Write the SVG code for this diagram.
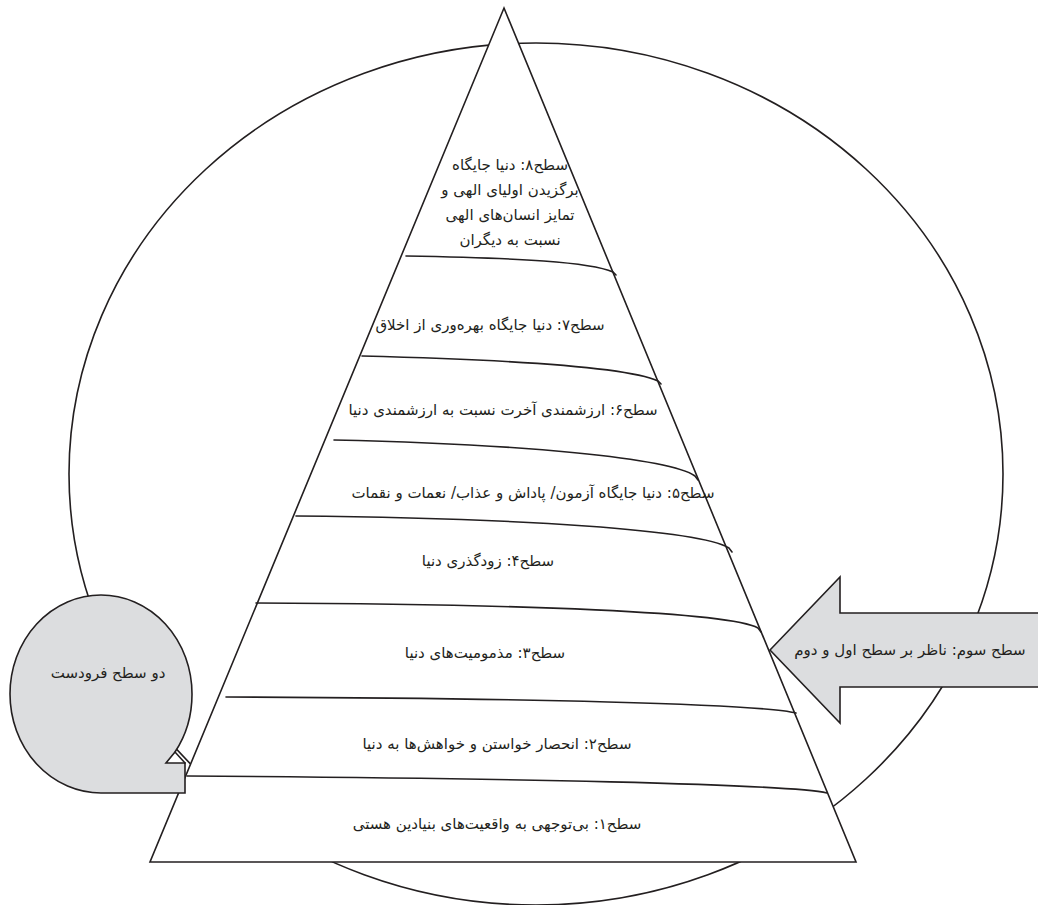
<svg xmlns="http://www.w3.org/2000/svg" width="1038" height="905" viewBox="0 0 1038 905">
<style>
.ln{fill:none;stroke:#231f20;stroke-width:1.6;stroke-linecap:round}
.sh{stroke:#231f20;stroke-width:1.6;stroke-linejoin:miter}
.gray{fill:#dcdddf}
.t{font-family:'DejaVu Sans',sans-serif;font-size:15px;fill:#231f20;text-anchor:middle;direction:rtl}
</style>
<rect width="1038" height="905" fill="#ffffff"/>
<g id="outer-ellipse">
<ellipse cx="536" cy="474" rx="467" ry="431" class="ln"/>
</g>
<g id="pyramid">
<polygon points="504,8 856,862 150,862" fill="#ffffff" class="sh"/>
</g>
<g id="connectors">
<path class="ln" d="M406,256 C520,258 590,262 613,272 L616,275"/>
<path class="ln" d="M362,356 C520,360 630,368 658,381 L661,384"/>
<path class="ln" d="M334,440 C520,444 670,458 695,476 L698,480"/>
<path class="ln" d="M296,516 C520,518 700,530 729,548 L732,552"/>
<path class="ln" d="M256,603 C520,604 730,612 758,628 L761,632"/>
<path class="ln" d="M226,697 C520,698 760,704 796,713"/>
<path class="ln" d="M187,776 C500,778 790,784 827,793"/>
</g>
<g id="level8">
<text class="t" x="510" y="170">سطح۸: دنیا جایگاه</text>
<text class="t" x="510" y="195">برگزیدن اولیای الهی و</text>
<text class="t" x="510" y="220">تمایز انسان‌های الهی</text>
<text class="t" x="510" y="245">نسبت به دیگران</text>
</g>
<g id="level7"><text class="t" x="490" y="330">سطح۷: دنیا جایگاه بهره‌وری از اخلاق</text></g>
<g id="level6"><text class="t" x="503" y="415">سطح۶: ارزشمندی آخرت نسبت به ارزشمندی دنیا</text></g>
<g id="level5"><text class="t" x="533" y="498">سطح۵: دنیا جایگاه آزمون/ پاداش و عذاب/ نعمات و نقمات</text></g>
<g id="level4"><text class="t" x="488" y="566">سطح۴: زودگذری دنیا</text></g>
<g id="level3"><text class="t" x="485" y="658">سطح۳: مذمومیت‌های دنیا</text></g>
<g id="level2"><text class="t" x="497" y="749">سطح۲: انحصار خواستن و خواهش‌ها به دنیا</text></g>
<g id="level1"><text class="t" x="497" y="829">سطح۱: بی‌توجهی به واقعیت‌های بنیادین هستی</text></g>
<g id="arrow">
<polygon class="sh gray" points="770,650 840,577 840,613 1040,613 1040,687 840,687 840,723"/>
<text class="t" x="910" y="655">سطح سوم: ناظر بر سطح اول و دوم</text>
</g>
<g id="bubble">
<path class="sh gray" d="M101,793 A91,99 0 0 1 10,694 A91,99 0 0 1 101,595 A91,99 0 0 1 192,694 A91,99 0 0 1 175,752 L166,763 L185,763 L185,793 Z"/>
<path class="ln" d="M175,752 L185,763"/>
<text class="t" x="108" y="678">دو سطح فرودست</text>
</g>
</svg>
